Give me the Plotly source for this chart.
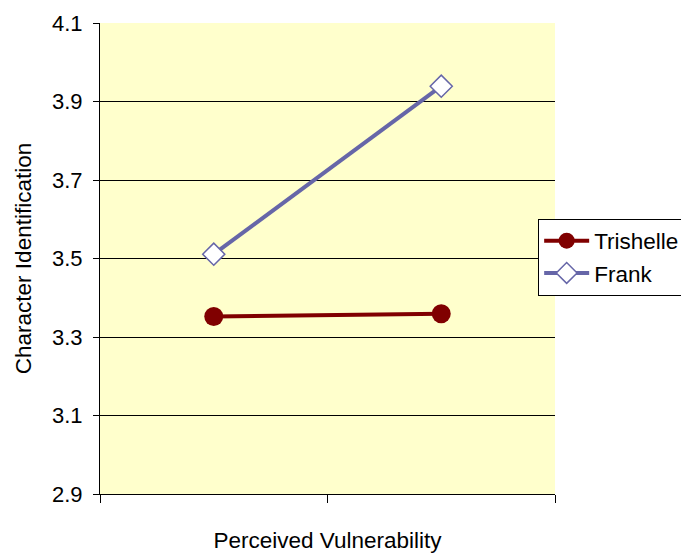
import plotly.graph_objects as go

categories = ["Low", "High"]
x_pos = [0.5, 1.5]
trishelle = [3.352, 3.359]
frank = [3.511, 3.939]
y_ticks = [2.9, 3.1, 3.3, 3.5, 3.7, 3.9, 4.1]

fig = go.Figure()
fig.add_trace(go.Scatter(
    x=x_pos, y=trishelle, name="Trishelle", mode="lines+markers",
    line=dict(color="#800000", width=4),
    marker=dict(symbol="circle", size=19, color="#800000"),
))
fig.add_trace(go.Scatter(
    x=x_pos, y=frank, name="Frank", mode="lines+markers",
    line=dict(color="#6666A8", width=4),
    marker=dict(symbol="diamond", size=17, color="white",
                line=dict(color="#6666A8", width=1.5)),
))

fig.update_layout(
    width=681, height=553,
    margin=dict(l=100, r=126, t=23, b=59, autoexpand=False),
    paper_bgcolor="white",
    plot_bgcolor="#FFFFCC",
    font=dict(family="Liberation Sans, Arial, sans-serif", size=22, color="black"),
    showlegend=True,
    legend=dict(
        x=0.963, xanchor="left", y=0.503, yanchor="middle",
        bgcolor="white", bordercolor="black", borderwidth=1,
        font=dict(size=22.5), itemwidth=45,
    ),
)
fig.update_xaxes(
    range=[0, 2], tickvals=[0, 1, 2], ticktext=["", "", ""],
    showgrid=False, zeroline=False, automargin=False,
    showline=True, linecolor="black", linewidth=1,
    ticks="outside", ticklen=8, tickcolor="black",
    title=dict(text="Perceived Vulnerability", standoff=28, font=dict(size=22.5)),
)
fig.update_yaxes(
    range=[2.9, 4.1], tickvals=y_ticks, ticktext=[f"{v:.1f}" for v in y_ticks],
    showgrid=True, gridcolor="black", gridwidth=1, zeroline=False, automargin=False,
    showline=True, linecolor="black", linewidth=1,
    ticks="outside", ticklen=6, tickcolor="black", ticklabelstandoff=6,
    tickfont=dict(size=22),
    title=dict(text="Character Identification", standoff=14, font=dict(size=22.5)),
)

fig.write_html("out.html")
